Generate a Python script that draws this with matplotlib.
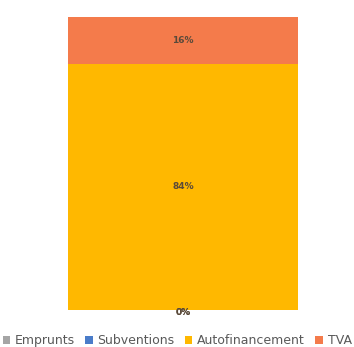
import matplotlib
matplotlib.use("Agg")
import matplotlib.pyplot as plt

categories = ["Emprunts", "Subventions", "Autofinancement", "TVA"]
values = [0, 0, 84, 16]
colors = ["#A5A5A5", "#4A7CC9", "#FFB800", "#F47B4B"]

fig = plt.figure(figsize=(3.54, 3.47), dpi=100)
ax = fig.add_axes([0.192, 0.107, 0.650, 0.844])
bottom = 0
handles = []
for cat, v, c in zip(categories, values, colors):
    b = ax.bar([0], [v], bottom=bottom, width=1.0, color=c, label=cat)
    handles.append(b)
    ypos = bottom + v / 2 if v > 0 else bottom - 0.8
    ax.text(0, ypos, f"{v}%", ha="center", va="center",
            fontsize=6.5, fontweight="bold", color="#5a4a3a", clip_on=False)
    bottom += v
ax.set_xlim(-0.5, 0.5)
ax.set_ylim(0, 100)
ax.axis("off")
fig.legend(handles=handles, labels=categories, loc="center", bbox_to_anchor=(0.5, 0.018),
           ncol=4, frameon=False, fontsize=9, handlelength=0.6, handleheight=0.6,
           handletextpad=0.4, columnspacing=0.8, labelcolor="#595959")
fig.savefig("out.png", dpi=100)
